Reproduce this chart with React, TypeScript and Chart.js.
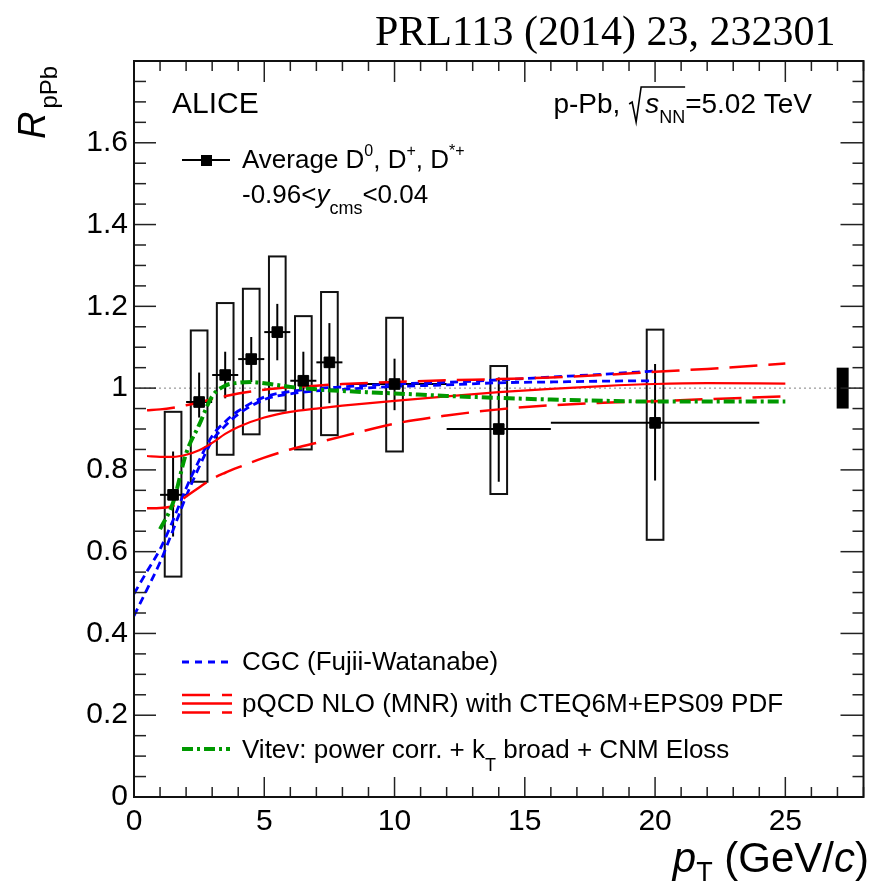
import React, { useEffect, useRef } from 'react';
import { Chart, registerables } from 'chart.js';

Chart.register(...registerables);

// ---------------- data ----------------
const ptCenters = [1.5, 2.5, 3.5, 4.5, 5.5, 6.5, 7.5, 10, 14, 20];
const ptLow = [1, 2, 3, 4, 5, 6, 7, 8, 12, 16];
const ptHigh = [2, 3, 4, 5, 6, 7, 8, 12, 16, 24];
const rpPb = [0.739, 0.966, 1.032, 1.071, 1.137, 1.018, 1.063, 1.01, 0.9, 0.915];
const statUp = [0.106, 0.072, 0.057, 0.054, 0.069, 0.071, 0.096, 0.062, 0.126, 0.144];
const statDown = [0.102, 0.038, 0.057, 0.056, 0.069, 0.072, 0.1, 0.064, 0.129, 0.141];
const sysUp = [0.203, 0.175, 0.176, 0.172, 0.185, 0.158, 0.172, 0.162, 0.154, 0.228];
const sysDown = [0.2, 0.195, 0.195, 0.184, 0.192, 0.168, 0.178, 0.165, 0.159, 0.286];

const normCenterX = 27.2;
const normValue = 1.0;
const normErr = 0.05;
const unityLine = 1.0;

const cgcX = [0, 0.5, 1, 1.5, 2, 2.5, 3, 3.5, 4, 5, 6, 7, 8, 10, 12, 14, 16, 18, 20];
const cgcLow = [0.443, 0.508, 0.574, 0.653, 0.735, 0.807, 0.871, 0.908, 0.936, 0.972, 0.986, 0.993, 0.997, 1.004, 1.008, 1.013, 1.015, 1.017, 1.018];
const cgcHigh = [0.497, 0.552, 0.606, 0.677, 0.755, 0.823, 0.883, 0.918, 0.944, 0.978, 0.992, 0.999, 1.003, 1.01, 1.014, 1.02, 1.027, 1.034, 1.042];

const pqcdX = [0.5, 1, 1.5, 2, 2.5, 3, 3.5, 4, 5, 6, 7, 8, 10, 12, 14, 16, 18, 20, 22, 25];
const pqcdUpper = [0.946, 0.948, 0.952, 0.958, 0.965, 0.973, 0.98, 0.987, 0.996, 1.002, 1.006, 1.01, 1.015, 1.019, 1.022, 1.026, 1.032, 1.04, 1.047, 1.06];
const pqcdCentral = [0.834, 0.832, 0.832, 0.837, 0.848, 0.866, 0.888, 0.905, 0.928, 0.942, 0.95, 0.957, 0.969, 0.98, 0.99, 0.998, 1.005, 1.01, 1.012, 1.011];
const pqcdLower = [0.706, 0.707, 0.712, 0.735, 0.757, 0.778, 0.793, 0.806, 0.83, 0.85, 0.866, 0.882, 0.913, 0.933, 0.948, 0.958, 0.964, 0.968, 0.973, 0.98];

const vitevX = [1, 1.5, 2, 2.5, 3, 3.5, 4, 4.5, 5, 6, 7, 8, 10, 12, 14, 16, 18, 20, 22, 25];
const vitevY = [0.655, 0.72, 0.84, 0.91, 0.98, 1.006, 1.013, 1.015, 1.012, 1.003, 0.997, 0.993, 0.987, 0.981, 0.976, 0.972, 0.969, 0.967, 0.967, 0.967];

const xTickValues = [0, 5, 10, 15, 20, 25];
const yTickValues = [0, 0.2, 0.4, 0.6, 0.8, 1.0, 1.2, 1.4, 1.6];
const yTickLabels = ['0', '0.2', '0.4', '0.6', '0.8', '1', '1.2', '1.4', '1.6'];

const titleText = 'PRL113 (2014) 23, 232301';
const legendCGC = 'CGC (Fujii-Watanabe)';
const legendPQCD = 'pQCD NLO (MNR) with CTEQ6M+EPS09 PDF';

// ---------------- styles ----------------
const SANS = '"Liberation Sans", Arial, Helvetica, sans-serif';
const SERIF = '"Liberation Serif", "Times New Roman", serif';
const BLUE = '#0000ff';
const RED = '#ff0000';
const GREEN = '#009900';
const blueDash = [8, 5];
const redDash = [28, 11];
const greenDash = [11, 4, 3, 4];

type Seg = { t: string; size: number; italic?: boolean; dy?: number; family?: string };
const segFont = (s: Seg) => `${s.italic ? 'italic ' : ''}${s.size}px ${s.family ?? SANS}`;
function richWidth(ctx: CanvasRenderingContext2D, segs: Seg[]) {
  let w = 0;
  for (const s of segs) {
    ctx.font = segFont(s);
    w += ctx.measureText(s.t).width;
  }
  return w;
}
function drawRich(ctx: CanvasRenderingContext2D, x: number, y: number, segs: Seg[]) {
  let cx = x;
  for (const s of segs) {
    ctx.font = segFont(s);
    ctx.fillText(s.t, cx, y + (s.dy ?? 0));
    cx += ctx.measureText(s.t).width;
  }
  return cx;
}
function line(ctx: CanvasRenderingContext2D, x1: number, y1: number, x2: number, y2: number) {
  ctx.beginPath();
  ctx.moveTo(x1, y1);
  ctx.lineTo(x2, y2);
  ctx.stroke();
}

const overlay = {
  id: 'overlay',
  beforeDatasetsDraw(chart: any) {
    const ctx: CanvasRenderingContext2D = chart.ctx;
    const xs = chart.scales.x;
    const ys = chart.scales.y;
    ctx.save();
    // unity dotted line
    ctx.strokeStyle = '#808080';
    ctx.lineWidth = 1;
    ctx.setLineDash([2, 3]);
    line(ctx, xs.getPixelForValue(xs.min), ys.getPixelForValue(unityLine), xs.getPixelForValue(xs.max), ys.getPixelForValue(unityLine));
    ctx.setLineDash([]);
    // systematic boxes
    ctx.strokeStyle = '#111';
    ctx.lineWidth = 2;
    const bw = 0.32;
    for (let i = 0; i < ptCenters.length; i++) {
      const l = xs.getPixelForValue(ptCenters[i] - bw);
      const r = xs.getPixelForValue(ptCenters[i] + bw);
      const t = ys.getPixelForValue(rpPb[i] + sysUp[i]);
      const b = ys.getPixelForValue(rpPb[i] - sysDown[i]);
      ctx.strokeRect(l, t, r - l, b - t);
    }
    // stat + bin-width bars
    ctx.strokeStyle = '#000';
    ctx.lineWidth = 2;
    for (let i = 0; i < ptCenters.length; i++) {
      const cx = xs.getPixelForValue(ptCenters[i]);
      const cy = ys.getPixelForValue(rpPb[i]);
      line(ctx, cx, ys.getPixelForValue(rpPb[i] + statUp[i]), cx, ys.getPixelForValue(rpPb[i] - statDown[i]));
      line(ctx, xs.getPixelForValue(ptLow[i]), cy, xs.getPixelForValue(ptHigh[i]), cy);
    }
    // normalisation box
    ctx.fillStyle = '#000';
    const nl = xs.getPixelForValue(normCenterX - 0.23);
    const nr = xs.getPixelForValue(normCenterX + 0.23);
    const nt = ys.getPixelForValue(normValue + normErr);
    const nb = ys.getPixelForValue(normValue - normErr);
    ctx.fillRect(nl, nt, nr - nl, nb - nt);
    ctx.restore();
  },
  afterDraw(chart: any) {
    const ctx: CanvasRenderingContext2D = chart.ctx;
    const xs = chart.scales.x;
    const ys = chart.scales.y;
    const { left, right, top, bottom } = chart.chartArea;
    ctx.save();
    // ticks
    ctx.strokeStyle = '#222';
    ctx.lineWidth = 1.5;
    for (let k = 0; k <= 28; k++) {
      const px = xs.getPixelForValue(k);
      const major = k % 5 === 0;
      line(ctx, px, bottom, px, bottom - (major ? 20 : 10));
      line(ctx, px, top, px, top + (major ? 21 : 10));
    }
    for (let k = 0; k <= 36; k++) {
      const py = ys.getPixelForValue(k * 0.05);
      const major = k % 4 === 0;
      line(ctx, left, py, left + (major ? 22 : 12), py);
      line(ctx, right, py, right - (major ? 23 : 11), py);
    }
    // frame
    ctx.strokeStyle = '#111';
    ctx.lineWidth = 2;
    ctx.strokeRect(left, top, right - left, bottom - top);

    ctx.fillStyle = '#000';
    ctx.textBaseline = 'alphabetic';
    ctx.textAlign = 'left';

    // title
    ctx.font = `42px ${SERIF}`;
    ctx.fillText(titleText, 375, 45);

    // ALICE
    ctx.font = `30px ${SANS}`;
    ctx.fillText('ALICE', 172, 113);

    // energy label
    {
      const a: Seg = { t: 'p-Pb, ', size: 28 };
      const s: Seg = { t: 's', size: 28, italic: true };
      const nn: Seg = { t: 'NN', size: 18, dy: 10 };
      const e: Seg = { t: '=5.02 TeV', size: 28 };
      const sqrtW = 17;
      const total = richWidth(ctx, [a]) + sqrtW + richWidth(ctx, [s, nn, e]);
      const b = 113;
      let x0 = 812 - total;
      x0 = drawRich(ctx, x0, b, [a]);
      ctx.strokeStyle = '#000';
      ctx.lineWidth = 1.6;
      const xAfter = drawRich(ctx, x0 + sqrtW, b, [s, nn]);
      ctx.beginPath();
      ctx.moveTo(x0 + 1, b - 9);
      ctx.lineTo(x0 + 4, b - 11);
      ctx.lineTo(x0 + 8, b + 9);
      ctx.lineTo(x0 + 13, b - 26);
      ctx.lineTo(xAfter, b - 26);
      ctx.stroke();
      drawRich(ctx, xAfter, b, [e]);
    }

    // data legend
    ctx.strokeStyle = '#000';
    ctx.lineWidth = 2;
    line(ctx, 182, 160, 230, 160);
    ctx.fillRect(201, 155, 11, 11);
    drawRich(ctx, 242, 168, [
      { t: 'Average D', size: 26 },
      { t: '0', size: 16, dy: -12 },
      { t: ', D', size: 26 },
      { t: '+', size: 16, dy: -12 },
      { t: ', D', size: 26 },
      { t: '*+', size: 16, dy: -12 },
    ]);
    drawRich(ctx, 242, 203, [
      { t: '-0.96<', size: 26 },
      { t: 'y', size: 26, italic: true },
      { t: 'cms', size: 18, dy: 11 },
      { t: '<0.04', size: 26 },
    ]);

    // model legend
    ctx.lineWidth = 3;
    ctx.strokeStyle = BLUE;
    ctx.setLineDash([7, 6]);
    line(ctx, 182, 662, 232, 662);
    ctx.strokeStyle = RED;
    ctx.lineWidth = 2.5;
    ctx.setLineDash([28, 12]);
    line(ctx, 182, 695, 232, 695);
    line(ctx, 182, 712.5, 232, 712.5);
    ctx.setLineDash([]);
    line(ctx, 182, 703.5, 232, 703.5);
    ctx.strokeStyle = GREEN;
    ctx.lineWidth = 4;
    ctx.setLineDash(greenDash);
    line(ctx, 182, 749, 230, 749);
    ctx.setLineDash([]);
    ctx.font = `26px ${SANS}`;
    ctx.fillText(legendCGC, 242, 670);
    ctx.fillText(legendPQCD, 242, 712);
    drawRich(ctx, 242, 758, [
      { t: 'Vitev: power corr. + k', size: 26 },
      { t: 'T', size: 18, dy: 13 },
      { t: ' broad + CNM Eloss', size: 26 },
    ]);

    // x-axis title
    {
      const segs: Seg[] = [
        { t: 'p', size: 42, italic: true },
        { t: 'T', size: 27, dy: 9 },
        { t: ' (GeV/', size: 42 },
        { t: 'c', size: 42, italic: true },
        { t: ')', size: 42 },
      ];
      const w = richWidth(ctx, segs);
      drawRich(ctx, 869 - w, 872, segs);
    }

    // y-axis title (rotated)
    ctx.save();
    ctx.translate(45, 139);
    ctx.rotate(-Math.PI / 2);
    ctx.font = `italic 38px ${SANS}`;
    ctx.fillText('R', 0, 0);
    const rw = ctx.measureText('R').width;
    ctx.font = `24px ${SANS}`;
    ctx.fillText('pPb', rw + 3, 12);
    ctx.restore();

    ctx.restore();
  },
};

const pts = (xsArr: number[], ysArr: number[]) => xsArr.map((x, i) => ({ x, y: ysArr[i] }));

export default function App() {
  const ref = useRef<HTMLCanvasElement>(null);
  useEffect(() => {
    const canvas = ref.current;
    if (!canvas) return;
    const lineBase = { type: 'line' as const, pointRadius: 0, fill: false, cubicInterpolationMode: 'monotone' as const };
    const chart = new Chart(canvas, {
      type: 'scatter',
      data: {
        datasets: [
          {
            type: 'scatter',
            label: 'data',
            data: pts(ptCenters, rpPb),
            pointStyle: 'rect',
            pointRadius: 7.5,
            backgroundColor: '#000',
            borderColor: '#000',
            borderWidth: 1,
            order: 0,
          } as any,
          { ...lineBase, label: 'cgc-high', data: pts(cgcX, cgcHigh), borderColor: BLUE, borderWidth: 2.8, borderDash: blueDash, order: 3 },
          { ...lineBase, label: 'cgc-low', data: pts(cgcX, cgcLow), borderColor: BLUE, borderWidth: 2.8, borderDash: blueDash, order: 3 },
          { ...lineBase, label: 'pqcd-up', data: pts(pqcdX, pqcdUpper), borderColor: RED, borderWidth: 2.5, borderDash: redDash, order: 2 },
          { ...lineBase, label: 'pqcd-c', data: pts(pqcdX, pqcdCentral), borderColor: RED, borderWidth: 2.2, order: 2 },
          { ...lineBase, label: 'pqcd-lo', data: pts(pqcdX, pqcdLower), borderColor: RED, borderWidth: 2.5, borderDash: redDash, order: 2 },
          { ...lineBase, label: 'vitev', data: pts(vitevX, vitevY), borderColor: GREEN, borderWidth: 4, borderDash: greenDash, order: 1 },
        ] as any,
      },
      options: {
        responsive: false,
        animation: false,
        devicePixelRatio: 1,
        events: [],
        layout: { padding: { top: 61, right: 4, left: 0, bottom: 0 } },
        plugins: { legend: { display: false }, tooltip: { enabled: false } },
        scales: {
          x: {
            type: 'linear',
            min: 0,
            max: 28,
            grid: { display: false, drawTicks: false },
            border: { display: false },
            ticks: {
              font: { family: SANS, size: 30 },
              color: '#000',
              padding: 7,
              maxRotation: 0,
              autoSkip: false,
              callback: (v: any) => String(v),
            },
            afterBuildTicks: (s: any) => {
              s.ticks = xTickValues.map((v) => ({ value: v }));
            },
            afterFit: (s: any) => {
              s.height = 94;
            },
          },
          y: {
            type: 'linear',
            min: 0,
            max: 1.8,
            grid: { display: false, drawTicks: false },
            border: { display: false },
            ticks: {
              font: { family: SANS, size: 30 },
              color: '#000',
              padding: 6,
              autoSkip: false,
              callback: (v: any) => {
                const i = yTickValues.findIndex((t) => Math.abs(t - v) < 1e-6);
                return i >= 0 ? yTickLabels[i] : '';
              },
            },
            afterBuildTicks: (s: any) => {
              s.ticks = yTickValues.map((v) => ({ value: v }));
            },
            afterFit: (s: any) => {
              s.width = 134;
            },
          },
        },
      },
      plugins: [overlay],
    } as any);
    return () => chart.destroy();
  }, []);
  return (
    <div style={{ position: 'absolute', left: 0, top: 0, width: 872, height: 891, background: '#fff' }}>
      <canvas ref={ref} width={872} height={891} style={{ width: 872, height: 891, display: 'block' }} />
    </div>
  );
}
